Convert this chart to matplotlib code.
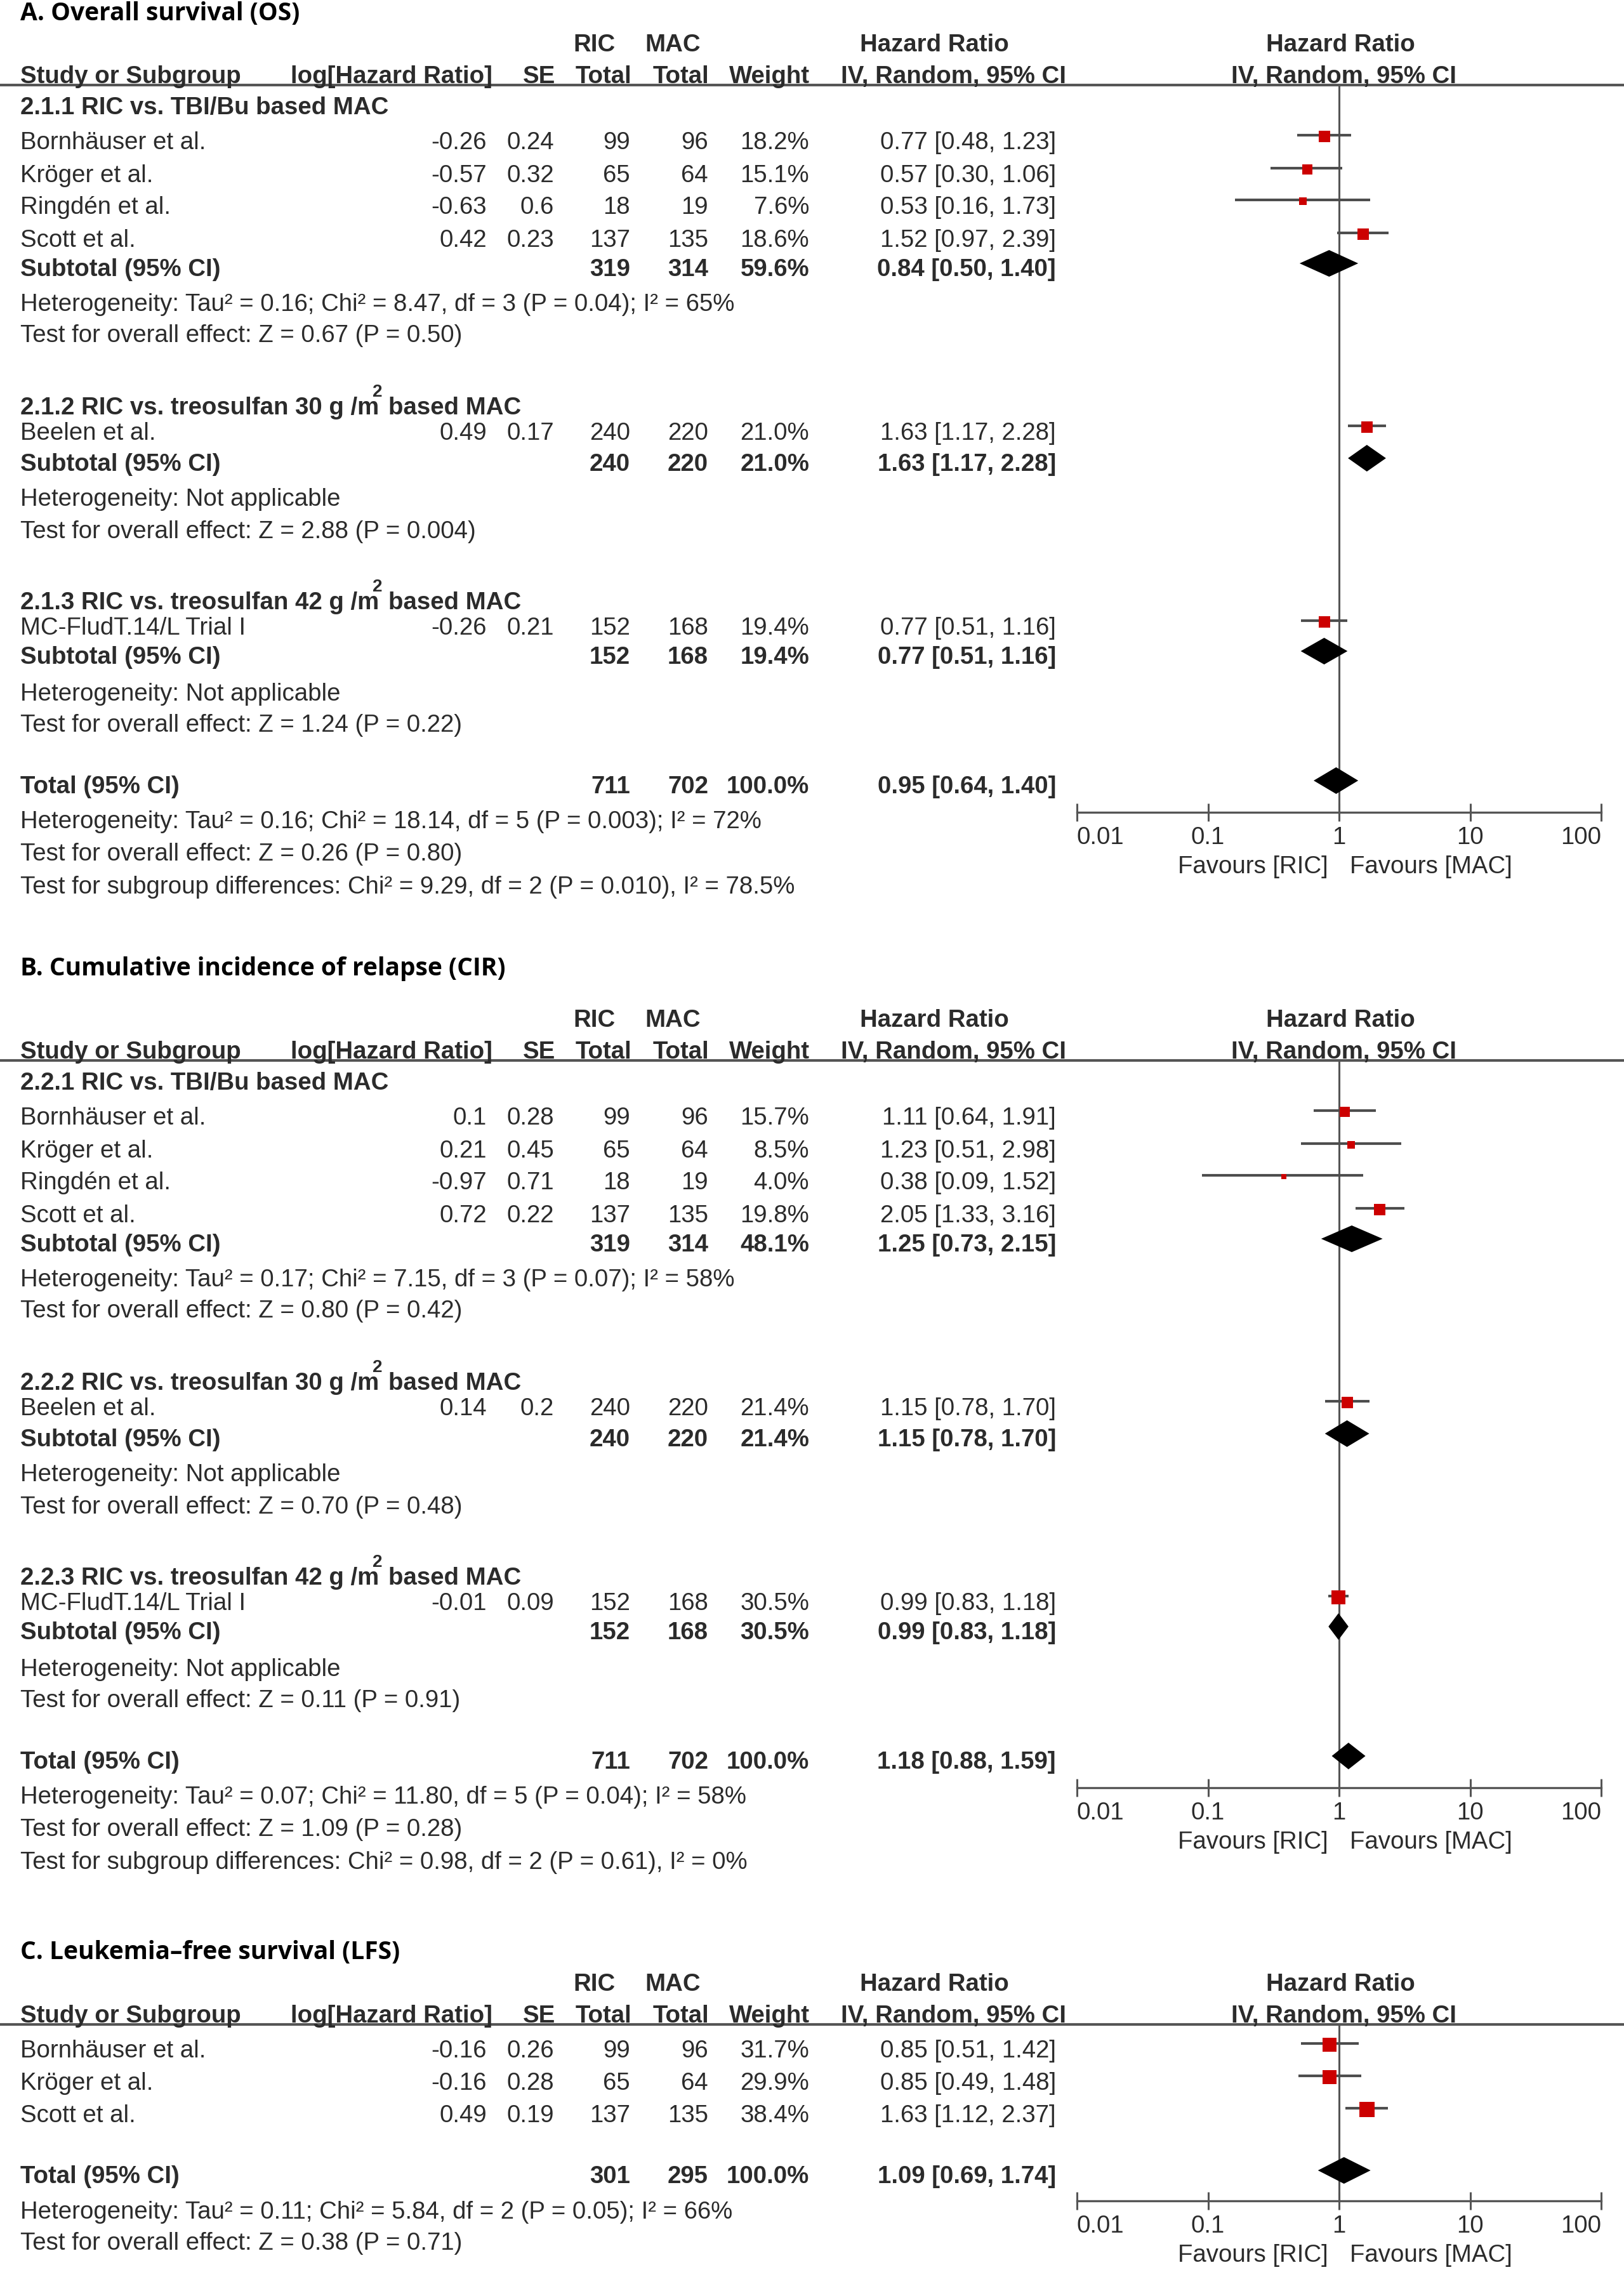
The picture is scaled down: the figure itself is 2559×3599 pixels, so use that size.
import numpy as np
import matplotlib
matplotlib.use("Agg")
from matplotlib import pyplot as plt
from matplotlib.ticker import NullLocator

W, H, DPI = 2559, 3599, 100

# ---------------- A. Overall survival (OS) ----------------
os_title = "A. Overall survival (OS)"
os_group_titles = [("2.1.1 RIC vs. TBI/Bu based MAC", None),
                   ("2.1.2 RIC vs. treosulfan 30 g /m", "based MAC"),
                   ("2.1.3 RIC vs. treosulfan 42 g /m", "based MAC")]
os_studies = ["Bornhäuser et al.", "Kröger et al.", "Ringdén et al.", "Scott et al.",
              "Beelen et al.", "MC-FludT.14/L Trial I"]
os_loghr = [-0.26, -0.57, -0.63, 0.42, 0.49, -0.26]
os_se = [0.24, 0.32, 0.6, 0.23, 0.17, 0.21]
os_ric = [99, 65, 18, 137, 240, 152]
os_mac = [96, 64, 19, 135, 220, 168]
os_weight = [18.2, 15.1, 7.6, 18.6, 21.0, 19.4]
os_hr = [0.77, 0.57, 0.53, 1.52, 1.63, 0.77]
os_lo = [0.48, 0.30, 0.16, 0.97, 1.17, 0.51]
os_hi = [1.23, 1.06, 1.73, 2.39, 2.28, 1.16]
os_sub_ric = [319, 240, 152]
os_sub_mac = [314, 220, 168]
os_sub_weight = [59.6, 21.0, 19.4]
os_sub_hr = [0.84, 1.63, 0.77]
os_sub_lo = [0.50, 1.17, 0.51]
os_sub_hi = [1.40, 2.28, 1.16]
os_sub_het = ["Heterogeneity: Tau² = 0.16; Chi² = 8.47, df = 3 (P = 0.04); I² = 65%",
              "Heterogeneity: Not applicable",
              "Heterogeneity: Not applicable"]
os_sub_test = ["Test for overall effect: Z = 0.67 (P = 0.50)",
               "Test for overall effect: Z = 2.88 (P = 0.004)",
               "Test for overall effect: Z = 1.24 (P = 0.22)"]
os_total = [711, 702, 100.0, 0.95, 0.64, 1.40]
os_notes = ["Heterogeneity: Tau² = 0.16; Chi² = 18.14, df = 5 (P = 0.003); I² = 72%",
            "Test for overall effect: Z = 0.26 (P = 0.80)",
            "Test for subgroup differences: Chi² = 9.29, df = 2 (P = 0.010), I² = 78.5%"]

# ---------------- B. Cumulative incidence of relapse (CIR) ----------------
cir_title = "B. Cumulative incidence of relapse (CIR)"
cir_group_titles = [("2.2.1 RIC vs. TBI/Bu based MAC", None),
                    ("2.2.2 RIC vs. treosulfan 30 g /m", "based MAC"),
                    ("2.2.3 RIC vs. treosulfan 42 g /m", "based MAC")]
cir_studies = os_studies
cir_loghr = [0.1, 0.21, -0.97, 0.72, 0.14, -0.01]
cir_se = [0.28, 0.45, 0.71, 0.22, 0.2, 0.09]
cir_ric = [99, 65, 18, 137, 240, 152]
cir_mac = [96, 64, 19, 135, 220, 168]
cir_weight = [15.7, 8.5, 4.0, 19.8, 21.4, 30.5]
cir_hr = [1.11, 1.23, 0.38, 2.05, 1.15, 0.99]
cir_lo = [0.64, 0.51, 0.09, 1.33, 0.78, 0.83]
cir_hi = [1.91, 2.98, 1.52, 3.16, 1.70, 1.18]
cir_sub_ric = [319, 240, 152]
cir_sub_mac = [314, 220, 168]
cir_sub_weight = [48.1, 21.4, 30.5]
cir_sub_hr = [1.25, 1.15, 0.99]
cir_sub_lo = [0.73, 0.78, 0.83]
cir_sub_hi = [2.15, 1.70, 1.18]
cir_sub_het = ["Heterogeneity: Tau² = 0.17; Chi² = 7.15, df = 3 (P = 0.07); I² = 58%",
               "Heterogeneity: Not applicable",
               "Heterogeneity: Not applicable"]
cir_sub_test = ["Test for overall effect: Z = 0.80 (P = 0.42)",
                "Test for overall effect: Z = 0.70 (P = 0.48)",
                "Test for overall effect: Z = 0.11 (P = 0.91)"]
cir_total = [711, 702, 100.0, 1.18, 0.88, 1.59]
cir_notes = ["Heterogeneity: Tau² = 0.07; Chi² = 11.80, df = 5 (P = 0.04); I² = 58%",
             "Test for overall effect: Z = 1.09 (P = 0.28)",
             "Test for subgroup differences: Chi² = 0.98, df = 2 (P = 0.61), I² = 0%"]

# ---------------- C. Leukemia-free survival (LFS) ----------------
lfs_title = "C. Leukemia\u2013free survival (LFS)"
lfs_studies = ["Bornhäuser et al.", "Kröger et al.", "Scott et al."]
lfs_loghr = [-0.16, -0.16, 0.49]
lfs_se = [0.26, 0.28, 0.19]
lfs_ric = [99, 65, 137]
lfs_mac = [96, 64, 135]
lfs_weight = [31.7, 29.9, 38.4]
lfs_hr = [0.85, 0.85, 1.63]
lfs_lo = [0.51, 0.49, 1.12]
lfs_hi = [1.42, 1.48, 2.37]
lfs_total = [301, 295, 100.0, 1.09, 0.69, 1.74]
lfs_notes = ["Heterogeneity: Tau² = 0.11; Chi² = 5.84, df = 2 (P = 0.05); I² = 66%",
             "Test for overall effect: Z = 0.38 (P = 0.71)"]

tick_vals = [0.01, 0.1, 1, 10, 100]
tick_labels = ["0.01", "0.1", "1", "10", "100"]

# ---------------- layout / style ----------------
FONT = ["Liberation Sans", "DejaVu Sans"]
TITLE_FONT = ["Open Sans", "DejaVu Sans"]
FS = 27.6
TXT = "#2b2b2b"
LINE = "#555555"
RED = "#cc0000"

COL = dict(study=32, loghr=767, se=873, ric=993, mac=1116, w=1275, ci=1664)
FX0, FX1 = 1697, 2523   # forest plot x-extent (0.01 .. 100)

# row offsets below the header rule, for the three-subgroup panels
SUB_ROWS = dict(head=[36, 509, 816], study=[91, 143, 193, 245, 549, 856],
                sub=[291, 598, 902], het=[346, 653, 960], test=[395, 704, 1009],
                total=1106, notes=[1161, 1212, 1264], axis=1146)
LFS_ROWS = dict(study=[42, 93, 144], total=240, notes=[296, 345], axis=278)

plt.rcParams["font.family"] = FONT
fig = plt.figure(figsize=(W / DPI, H / DPI), dpi=DPI)
fig.patch.set_facecolor("white")
bg = fig.add_axes([0, 0, 1, 1])
bg.set_xlim(0, W)
bg.set_ylim(H, 0)
bg.axis("off")


def txt(x, y, s, ha="left", bold=False, size=FS, color=TXT, **kw):
    return bg.text(x, y, s, ha=ha, va="center", fontsize=size,
                   fontweight="bold" if bold else "normal", color=color, **kw)


def header(line_y, title, title_y):
    bg.text(COL["study"], title_y, title, ha="left", va="center", fontsize=28,
            fontweight="bold", family=TITLE_FONT, color="black")
    y1, y2 = line_y - 63, line_y - 13
    txt(937, y1, "RIC", ha="center", bold=True)
    txt(1060, y1, "MAC", ha="center", bold=True)
    txt(1472, y1, "Hazard Ratio", ha="center", bold=True)
    txt(2112, y1, "Hazard Ratio", ha="center", bold=True)
    txt(COL["study"], y2, "Study or Subgroup", bold=True)
    txt(776, y2, "log[Hazard Ratio]", ha="right", bold=True)
    txt(875, y2, "SE", ha="right", bold=True)
    txt(995, y2, "Total", ha="right", bold=True)
    txt(1117, y2, "Total", ha="right", bold=True)
    txt(1276, y2, "Weight", ha="right", bold=True)
    txt(1680, y2, "IV, Random, 95% CI", ha="right", bold=True)
    txt(2118, y2, "IV, Random, 95% CI", ha="center", bold=True)
    bg.plot([0, W], [line_y, line_y], color=LINE, lw=3, solid_capstyle="butt")


def group_title(y, parts):
    before, after = parts
    t = txt(COL["study"], y, before, bold=True)
    if after is None:
        return
    fig.canvas.draw()
    bb = t.get_window_extent(renderer=fig.canvas.get_renderer())
    txt(bb.x1 - 3, y - 25, "2", ha="center", bold=True, size=20)
    txt(bb.x1 + 15, y, after, bold=True)


def forest_axes(line_y, axis_y):
    ax = fig.add_axes([FX0 / W, 1 - axis_y / H, (FX1 - FX0) / W, (axis_y - line_y) / H])
    ax.set_xscale("log")
    ax.set_xlim(tick_vals[0], tick_vals[-1])
    ax.set_ylim(axis_y, line_y)
    ax.patch.set_alpha(0)
    for s in ("top", "left", "right"):
        ax.spines[s].set_visible(False)
    ax.spines["bottom"].set_color(LINE)
    ax.spines["bottom"].set_linewidth(2.4)
    ax.set_yticks([])
    ax.set_xticks(tick_vals)
    ax.set_xticklabels(tick_labels)
    ax.xaxis.set_minor_locator(NullLocator())
    ax.tick_params(axis="x", direction="inout", length=20, width=2.2, color=LINE,
                   labelsize=FS, labelcolor=TXT, pad=6)
    labs = ax.get_xticklabels()
    labs[0].set_ha("left")
    labs[-1].set_ha("right")
    ax.axvline(1, color=LINE, lw=2.2, zorder=1)
    txt(2093, axis_y + 86, "Favours [RIC]", ha="right")
    txt(2127, axis_y + 86, "Favours [MAC]")
    return ax


def study_row(ax, y, name, lhr, se, ric, mac, w, hr, lo, hi):
    txt(COL["study"], y, name)
    txt(COL["loghr"], y, str(lhr), ha="right")
    txt(COL["se"], y, str(se), ha="right")
    txt(COL["ric"], y, str(ric), ha="right")
    txt(COL["mac"], y, str(mac), ha="right")
    txt(COL["w"], y, f"{w:.1f}%", ha="right")
    txt(COL["ci"], y, f"{hr:.2f} [{lo:.2f}, {hi:.2f}]", ha="right")
    ax.plot([lo, hi], [y - 12, y - 12], color="#4d4d4d", lw=3, solid_capstyle="butt", zorder=2)
    side = 4.0 * np.sqrt(w) * 72 / DPI
    ax.scatter([hr], [y - 10], marker="s", s=side ** 2, color=RED, linewidths=0, zorder=3)


def pooled_row(ax, y, label, ric, mac, w, hr, lo, hi):
    txt(COL["study"], y, label, bold=True)
    txt(COL["ric"], y, str(ric), ha="right", bold=True)
    txt(COL["mac"], y, str(mac), ha="right", bold=True)
    txt(COL["w"], y, f"{w:.1f}%", ha="right", bold=True)
    txt(COL["ci"], y, f"{hr:.2f} [{lo:.2f}, {hi:.2f}]", ha="right", bold=True)
    yc = y - 10
    ax.fill([lo, hr, hi, hr], [yc, yc - 21, yc, yc + 21], color="black", lw=0, zorder=3)


def subgroup_panel(line_y, title, title_y, groups, studies, lhr, se, ric, mac, w, hr, lo, hi,
                   s_ric, s_mac, s_w, s_hr, s_lo, s_hi, s_het, s_test, total, notes):
    r = SUB_ROWS
    header(line_y, title, title_y)
    ax = forest_axes(line_y, line_y + r["axis"])
    for g, dy in enumerate(r["head"]):
        group_title(line_y + dy, groups[g])
    for i, dy in enumerate(r["study"]):
        study_row(ax, line_y + dy, studies[i], lhr[i], se[i], ric[i], mac[i], w[i], hr[i], lo[i], hi[i])
    for g, dy in enumerate(r["sub"]):
        pooled_row(ax, line_y + dy, "Subtotal (95% CI)", s_ric[g], s_mac[g], s_w[g], s_hr[g], s_lo[g], s_hi[g])
        txt(COL["study"], line_y + r["het"][g], s_het[g])
        txt(COL["study"], line_y + r["test"][g], s_test[g])
    pooled_row(ax, line_y + r["total"], "Total (95% CI)", *total)
    for k, dy in enumerate(r["notes"]):
        txt(COL["study"], line_y + dy, notes[k])


subgroup_panel(134, os_title, 21, os_group_titles, os_studies, os_loghr, os_se, os_ric, os_mac,
               os_weight, os_hr, os_lo, os_hi, os_sub_ric, os_sub_mac, os_sub_weight,
               os_sub_hr, os_sub_lo, os_sub_hi, os_sub_het, os_sub_test, os_total, os_notes)

subgroup_panel(1671, cir_title, 1526, cir_group_titles, cir_studies, cir_loghr, cir_se, cir_ric,
               cir_mac, cir_weight, cir_hr, cir_lo, cir_hi, cir_sub_ric, cir_sub_mac,
               cir_sub_weight, cir_sub_hr, cir_sub_lo, cir_sub_hi, cir_sub_het, cir_sub_test,
               cir_total, cir_notes)

# panel C has no subgroups
line_c = 3190
header(line_c, lfs_title, 3076)
ax_c = forest_axes(line_c, line_c + LFS_ROWS["axis"])
for i, dy in enumerate(LFS_ROWS["study"]):
    study_row(ax_c, line_c + dy, lfs_studies[i], lfs_loghr[i], lfs_se[i], lfs_ric[i],
              lfs_mac[i], lfs_weight[i], lfs_hr[i], lfs_lo[i], lfs_hi[i])
pooled_row(ax_c, line_c + LFS_ROWS["total"], "Total (95% CI)", *lfs_total)
for k, dy in enumerate(LFS_ROWS["notes"]):
    txt(COL["study"], line_c + dy, lfs_notes[k])

fig.savefig("out.png", dpi=DPI, facecolor="white")
